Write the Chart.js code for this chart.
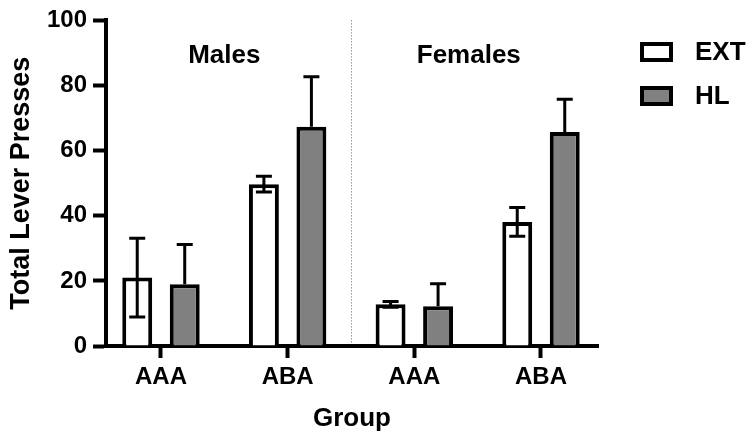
<!DOCTYPE html>
<html>
<head>
<meta charset="utf-8">
<script src="https://cdn.jsdelivr.net/npm/chart.js@4/dist/chart.umd.min.js"></script>
<style>
  html, body { margin: 0; padding: 0; background: #fff; }
  #wrap { width: 750px; height: 433px; }
</style>
</head>
<body>
<div id="wrap"><canvas id="chart" width="750" height="433"></canvas></div>
<script>
// groups along the x axis
const groups = ["AAA", "ABA", "AAA", "ABA"];
const sexes = ["Males", "Females"];

// means and SEM per group
const extMean = [21.0, 49.7, 12.8, 38.1];
const extErr  = [12.1, 2.4, 0.9, 4.4];
const hlMean  = [19.0, 67.3, 12.2, 65.7];
const hlErr   = [12.2, 15.4, 6.9, 10.1];

const yTicks = [0, 20, 40, 60, 80, 100];

const FONT = "'Liberation Sans', Arial, sans-serif";

function points(values) {
    return values.map((v, i) => ({ x: i + 1, y: v }));
}

// error bars: upward for all, downward only where it would show (white bars)
const errorBars = {
    id: "errorBars",
    afterDatasetsDraw(chart) {
        const ctx = chart.ctx;
        const y = chart.scales.y;
        chart.data.datasets.forEach((ds, di) => {
            const meta = chart.getDatasetMeta(di);
            meta.data.forEach((bar, i) => {
                const m = ds.data[i].y;
                const e = ds.err[i];
                const top = y.getPixelForValue(m + e);
                const bot = y.getPixelForValue(ds.errBelow ? m - e : m);
                const mid = y.getPixelForValue(m);
                ctx.save();
                ctx.strokeStyle = "#000";
                ctx.lineWidth = 3;
                ctx.beginPath();
                ctx.moveTo(bar.x, top);
                ctx.lineTo(bar.x, ds.errBelow ? bot : mid);
                ctx.moveTo(bar.x - 8, top);
                ctx.lineTo(bar.x + 8, top);
                if (ds.errBelow) {
                    ctx.moveTo(bar.x - 8, bot);
                    ctx.lineTo(bar.x + 8, bot);
                }
                ctx.stroke();
                ctx.restore();
            });
        });
    }
};

// divider, sex labels and legend
const extras = {
    id: "extras",
    afterDraw(chart) {
        const ctx = chart.ctx;
        const x = chart.scales.x;
        const y = chart.scales.y;
        const area = chart.chartArea;

        // dotted divider between males and females
        ctx.save();
        ctx.strokeStyle = "#666";
        ctx.lineWidth = 1;
        ctx.setLineDash([1, 2]);
        const dx = Math.round(x.getPixelForValue(2.5)) + 0.5;
        ctx.beginPath();
        ctx.moveTo(dx, area.top);
        ctx.lineTo(dx, area.bottom - 2);
        ctx.stroke();
        ctx.restore();

        ctx.save();
        ctx.fillStyle = "#000";
        ctx.font = "bold 26px " + FONT;
        ctx.textAlign = "center";
        ctx.textBaseline = "middle";
        ctx.fillText(sexes[0], x.getPixelForValue(1.5), y.getPixelForValue(89));
        ctx.fillText(sexes[1], x.getPixelForValue(3.43), y.getPixelForValue(89));

        // legend
        ctx.textAlign = "left";
        chart.data.datasets.forEach((ds, i) => {
            const cy = 52 + i * 44;
            ctx.fillStyle = ds.backgroundColor;
            ctx.fillRect(642, cy - 8, 29, 16);
            ctx.strokeStyle = "#000";
            ctx.lineWidth = 4;
            ctx.strokeRect(642, cy - 8, 29, 16);
            ctx.fillStyle = "#000";
            ctx.fillText(ds.label, 695, cy + 1);
        });
        ctx.restore();
    }
};

new Chart(document.getElementById("chart"), {
    type: "bar",
    data: {
        datasets: [
            {
                label: "EXT",
                data: points(extMean),
                err: extErr,
                errBelow: true,
                backgroundColor: "#ffffff",
                borderColor: "#000",
                borderWidth: 4,
                borderSkipped: "start",
            },
            {
                label: "HL",
                data: points(hlMean),
                err: hlErr,
                errBelow: false,
                backgroundColor: "#808080",
                borderColor: "#000",
                borderWidth: 4,
                borderSkipped: "start",
            },
        ],
    },
    options: {
        responsive: false,
        animation: false,
        categoryPercentage: 0.75,
        barPercentage: 0.63,
        layout: { padding: { top: 17, right: 152, left: 0, bottom: 0 } },
        plugins: {
            legend: { display: false },
            tooltip: { enabled: false },
        },
        scales: {
            x: {
                type: "linear",
                min: 0.566,
                max: 4.45,
                offset: false,
                afterBuildTicks: (scale) => {
                    scale.ticks = groups.map((g, i) => ({ value: i + 1 }));
                },
                afterFit: (scale) => { scale.height = 87; },
                ticks: {
                    callback: (v) => groups[v - 1],
                    color: "#000",
                    font: { family: FONT, size: 24, weight: "bold" },
                    padding: 5,
                    maxRotation: 0,
                    autoSkip: false,
                },
                grid: {
                    offset: false,
                    drawOnChartArea: false,
                    tickLength: 12,
                    tickWidth: 4,
                    tickColor: "#000",
                },
                border: { color: "#000", width: 4 },
                title: {
                    display: true,
                    text: "Group",
                    color: "#000",
                    font: { family: FONT, size: 26, weight: "bold", lineHeight: 1 },
                    padding: { top: 0, bottom: 1 },
                },
            },
            y: {
                min: 0,
                max: 100,
                afterBuildTicks: (scale) => {
                    scale.ticks = yTicks.map((v) => ({ value: v }));
                },
                afterFit: (scale) => { scale.width = 106; },
                ticks: {
                    color: "#000",
                    font: { family: FONT, size: 24, weight: "bold" },
                    padding: 6,
                },
                grid: {
                    drawOnChartArea: false,
                    tickLength: 13,
                    tickWidth: 4,
                    tickColor: "#000",
                },
                border: { color: "#000", width: 4 },
                title: {
                    display: true,
                    text: "Total Lever Presses",
                    color: "#000",
                    font: { family: FONT, size: 27, weight: "bold" },
                    padding: { top: 5, bottom: 4 },
                },
            },
        },
    },
    plugins: [errorBars, extras],
});
</script>
</body>
</html>
